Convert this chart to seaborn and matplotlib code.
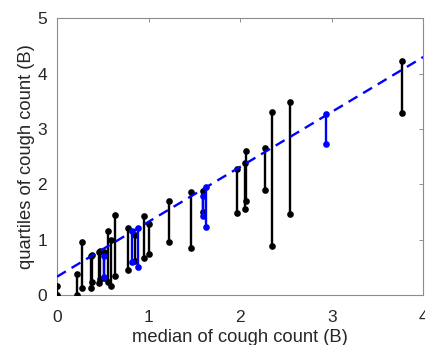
import matplotlib
matplotlib.use("Agg")
import matplotlib.pyplot as plt
import seaborn as sns
import pandas as pd

# median, lower quartile, upper quartile, group (1 = highlighted blue)
medians = [0.00, 0.22, 0.27, 0.37, 0.38, 0.46, 0.47, 0.51, 0.51, 0.56, 0.59, 0.63,
           0.78, 0.82, 0.85, 0.885, 0.95, 1.01, 1.22, 1.46, 1.60, 1.59, 1.63,
           1.97, 2.05, 2.06, 2.27, 2.35, 2.54, 2.94, 3.77]
q1 = [0.00, 0.00, 0.12, 0.12, 0.23, 0.22, 0.28, 0.30, 0.32, 0.24, 0.16, 0.34,
      0.46, 0.59, 0.62, 0.51, 0.66, 0.74, 0.95, 0.84, 1.50, 1.42, 1.23,
      1.48, 1.56, 1.70, 1.90, 0.88, 1.46, 2.72, 3.28]
q3 = [0.17, 0.37, 0.95, 0.70, 0.72, 0.78, 0.80, 0.77, 0.71, 1.16, 0.99, 1.45,
      1.21, 1.16, 1.08, 1.21, 1.43, 1.28, 1.69, 1.86, 1.87, 1.78, 1.95,
      2.27, 2.39, 2.61, 2.66, 3.30, 3.49, 3.27, 4.23]
group = [0, 0, 0, 0, 0, 0, 0, 0, 1, 0, 0, 0,
         0, 1, 0, 1, 0, 0, 0, 0, 0, 1, 1,
         0, 0, 0, 0, 0, 0, 1, 0]

fit_x = [0.0, 4.0]
fit_y = [0.33, 4.30]

xticks = [0, 1, 2, 3, 4]
yticks = [0, 1, 2, 3, 4, 5]

sns.set_style("white")
plt.rcParams['font.family'] = ['Liberation Sans', 'DejaVu Sans']

rows = []
for i, (m, a, b, g) in enumerate(zip(medians, q1, q3, group)):
    rows.append(dict(id=i, x=m, y=a, g=g))
    rows.append(dict(id=i, x=m, y=b, g=g))
df = pd.DataFrame(rows)

fig = plt.figure(figsize=(4.25, 3.45), dpi=100)
ax = fig.add_axes([0.134, 0.145, 0.862, 0.802])

colors = {0: 'black', 1: '#0000ff'}
for g in [0, 1]:
    sub = df[df.g == g]
    sns.lineplot(data=sub, x='x', y='y', units='id', estimator=None, sort=False,
                 color=colors[g], marker='o', markersize=4.8, markeredgewidth=0,
                 linewidth=1.7, ax=ax, zorder=3 + g)

sns.lineplot(x=fit_x, y=fit_y, color='#0000ff', linewidth=1.7, ax=ax, zorder=5,
             linestyle=(0, (4.4, 2.8)))

ax.set_xlim(0, 4)
ax.set_ylim(0, 5)
ax.set_xticks(xticks)
ax.set_yticks(yticks)
ax.set_xticklabels([str(t) for t in xticks])
ax.set_yticklabels([str(t) for t in yticks])
ax.set_xlabel('median of cough count (B)', fontsize=13.2, color='#262626', labelpad=3)
ax.set_ylabel('quartiles of cough count (B)', fontsize=13.2, color='#262626', labelpad=2)
ax.tick_params(direction='in', length=3, width=0.6, colors='#7f7f7f',
               labelcolor='#262626', labelsize=12.5, top=True, right=True)
ax.tick_params(axis='x', pad=11)
ax.tick_params(axis='y', pad=7)
for s in ax.spines.values():
    s.set_color('#8c8c8c')
    s.set_linewidth(0.8)
    s.set_visible(True)

fig.savefig('out.png', dpi=100)
